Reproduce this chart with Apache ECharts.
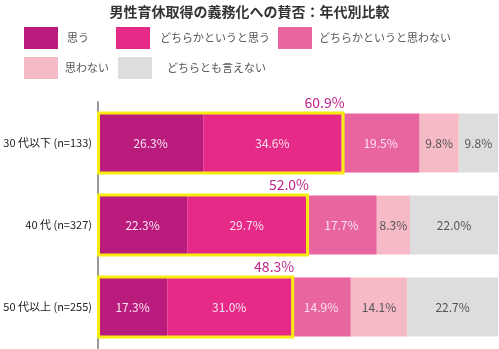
<!DOCTYPE html>
<html>
<head>
<meta charset="utf-8">
<script src="https://cdn.jsdelivr.net/npm/echarts@6/dist/echarts.min.js"></script>
<style>
  html, body { margin: 0; padding: 0; background: #fff; }
  #chart { width: 499px; height: 349px; }
</style>
</head>
<body>
<div id="chart"></div>
<script>
// Age groups (top to bottom)
const categories = ['30 代以下 (n=133)', '40 代 (n=327)', '50 代以上 (n=255)'];

// Response shares in percent, one array per answer
const seriesNames = ['思う', 'どちらかというと思う', 'どちらかというと思わない', '思わない', 'どちらとも言えない'];
const agree         = [26.3, 22.3, 17.3];
const ratherAgree   = [34.6, 29.7, 31.0];
const ratherDisagree= [19.5, 17.7, 14.9];
const disagree      = [9.8, 8.3, 14.1];
const undecided     = [9.8, 22.0, 22.7];

const colors = ['#b91c7c', '#e52a87', '#e8659f', '#f6b9c6', '#dcdddc'];
const labelColors = ['#fbe3ef', '#fbe3ef', '#fbe3ef', '#555', '#555'];
const fontFamily = '"Noto Sans CJK JP", "Noto Sans", sans-serif';

const values = [agree, ratherAgree, ratherDisagree, disagree, undecided];

// Combined "agree" share framed by the yellow boxes
const agreeTotals = agree.map((v, i) => +(v + ratherAgree[i]).toFixed(1));

const chart = echarts.init(document.getElementById('chart'), null, { renderer: 'canvas' });

const barSeries = values.map((arr, k) => ({
  name: seriesNames[k],
  type: 'bar',
  stack: 'total',
  barCategoryGap: '28%',
  data: arr,
  itemStyle: { color: colors[k] },
  label: {
    show: true,
    position: 'inside',
    formatter: p => p.value.toFixed(1) + '%',
    color: labelColors[k],
    fontSize: 12,
    fontFamily: fontFamily
  },
  emphasis: { disabled: true },
  z: 2
}));

const boxSeries = {
  type: 'custom',
  name: 'agreeBox',
  data: agreeTotals.map((v, i) => [v, i]),
  encode: { x: 0, y: 1 },
  z: 5,
  renderItem: (params, api) => {
    const total = api.value(0);
    const idx = api.value(1);
    const start = api.coord([0, idx]);
    const end = api.coord([total, idx]);
    const bandH = api.size([0, 1])[1];
    const h = bandH * 0.72 + 1;
    const x0 = start[0] + 0.5;
    const top = start[1] - h / 2;
    return {
      type: 'group',
      children: [
        {
          type: 'rect',
          shape: { x: x0, y: top, width: end[0] - x0 + 1.5, height: h },
          style: { fill: 'none', stroke: '#f7eb12', lineWidth: 3 }
        },
        {
          type: 'text',
          style: {
            x: end[0] + 3,
            y: top - 3,
            text: total.toFixed(1) + '%',
            fill: '#bf2489',
            font: '14px ' + fontFamily,
            align: 'right',
            verticalAlign: 'bottom'
          }
        }
      ]
    };
  }
};

// Legend entries placed individually
const legendSpots = [
  { left: 24,  top: 27, pad: 4 },
  { left: 116, top: 27, pad: 5 },
  { left: 278, top: 27, pad: 2 },
  { left: 24,  top: 57, pad: 2 },
  { left: 118, top: 57, pad: 10 }
];
const legends = legendSpots.map((s, k) => ({
  data: [seriesNames[k]],
  left: s.left,
  top: s.top,
  icon: 'rect',
  itemWidth: 34,
  itemHeight: 22,
  padding: 0,
  selectedMode: false,
  textStyle: { color: '#555', fontSize: 11, fontFamily: fontFamily, padding: [0, 0, 0, s.pad] }
}));

chart.setOption({
  animation: false,
  title: {
    text: '男性育休取得の義務化への賛否：年代別比較',
    left: 'center',
    top: 0,
    textStyle: { fontSize: 14, fontWeight: 'bold', color: '#333', fontFamily: fontFamily }
  },
  legend: legends,
  grid: { left: 98, right: 1, top: 102, height: 246 },
  xAxis: { type: 'value', min: 0, max: 100, show: false },
  yAxis: {
    type: 'category',
    data: categories,
    inverse: true,
    axisLine: { show: true, lineStyle: { color: '#9a9a9a', width: 2 } },
    axisTick: { show: false },
    axisLabel: { color: '#222', fontSize: 11, fontFamily: fontFamily, margin: 6 }
  },
  series: [...barSeries, boxSeries]
});
</script>
</body>
</html>
